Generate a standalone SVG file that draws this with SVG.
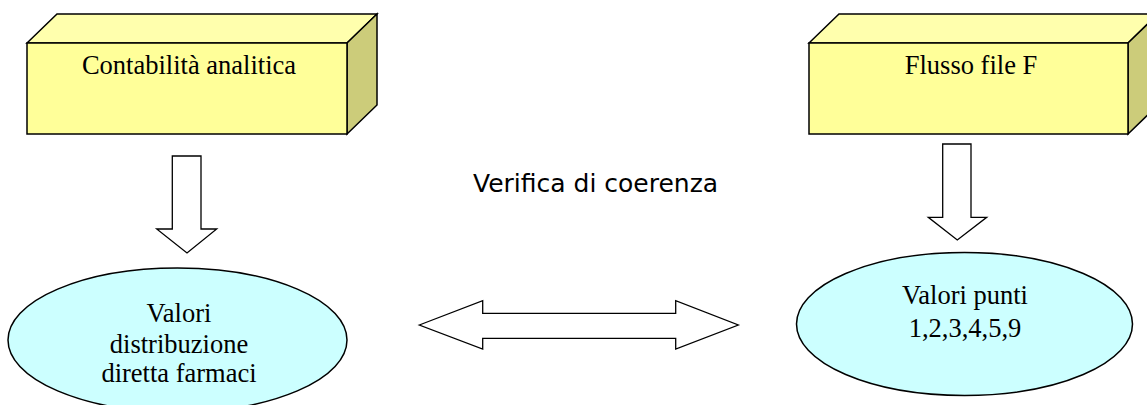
<svg xmlns="http://www.w3.org/2000/svg" width="1147" height="405" viewBox="0 0 1147 405">
<style>
.front{fill:#FFFF99;stroke:#000;stroke-width:1.5;stroke-linejoin:miter}
.top{fill:#FFFFAD;stroke:#000;stroke-width:1.5}
.side{fill:#CCCC7A;stroke:#000;stroke-width:1.5}
.ell{fill:#CCFFFF;stroke:#000;stroke-width:1.5}
.arr{fill:#FFFFFF;stroke:#000;stroke-width:1.3}
.t{font-family:"Liberation Serif","Times New Roman",serif;font-size:26.5px;fill:#000;text-anchor:middle}
.s{font-family:"DejaVu Sans",Verdana,sans-serif;font-size:25px;fill:#000}
</style>
<rect width="1147" height="405" fill="#FFFFFF"/>
<g id="box-contabilita">
<polygon class="top" points="27,43 57,14 377,14 347,43"/>
<polygon class="side" points="347,43 377,14 377,105 347,134"/>
<rect class="front" x="27" y="43" width="320" height="91"/>
<text class="t" x="189" y="74">Contabilità analitica</text>
</g>
<g id="box-flusso">
<polygon class="top" points="809,43 839,14 1158,14 1128,43"/>
<polygon class="side" points="1128,43 1158,14 1158,105 1128,134"/>
<rect class="front" x="809" y="43" width="319" height="91"/>
<text class="t" x="971" y="74">Flusso file F</text>
</g>
<g id="ellipse-valori-distribuzione">
<ellipse class="ell" cx="177.5" cy="340" rx="169.5" ry="72"/>
<text class="t" x="179" y="322">Valori</text>
<text class="t" x="179" y="353">distribuzione</text>
<text class="t" x="179" y="382">diretta farmaci</text>
</g>
<g id="ellipse-valori-punti">
<ellipse class="ell" cx="964.5" cy="324" rx="168" ry="71.5"/>
<text class="t" x="965" y="304">Valori punti</text>
<text class="t" x="965" y="337">1,2,3,4,5,9</text>
</g>
<g id="label-verifica">
<text class="s" x="473" y="192">Verifica di coerenza</text>
</g>
<g id="connectors">
<polygon class="arr" points="172.3,156 201,156 201,229 216.7,229 187,253 156.7,229 172.3,229"/>
<polygon class="arr" points="942.7,144 971,144 971,217.3 986.7,217.3 957.3,240 928.3,217.3 942.7,217.3"/>
<polygon class="arr" points="419.3,325 482.7,300.7 482.7,313.3 675.7,313.3 675.7,300.7 738.3,325 675.7,349 675.7,338.3 482.7,338.3 482.7,349"/>
</g>
</svg>
